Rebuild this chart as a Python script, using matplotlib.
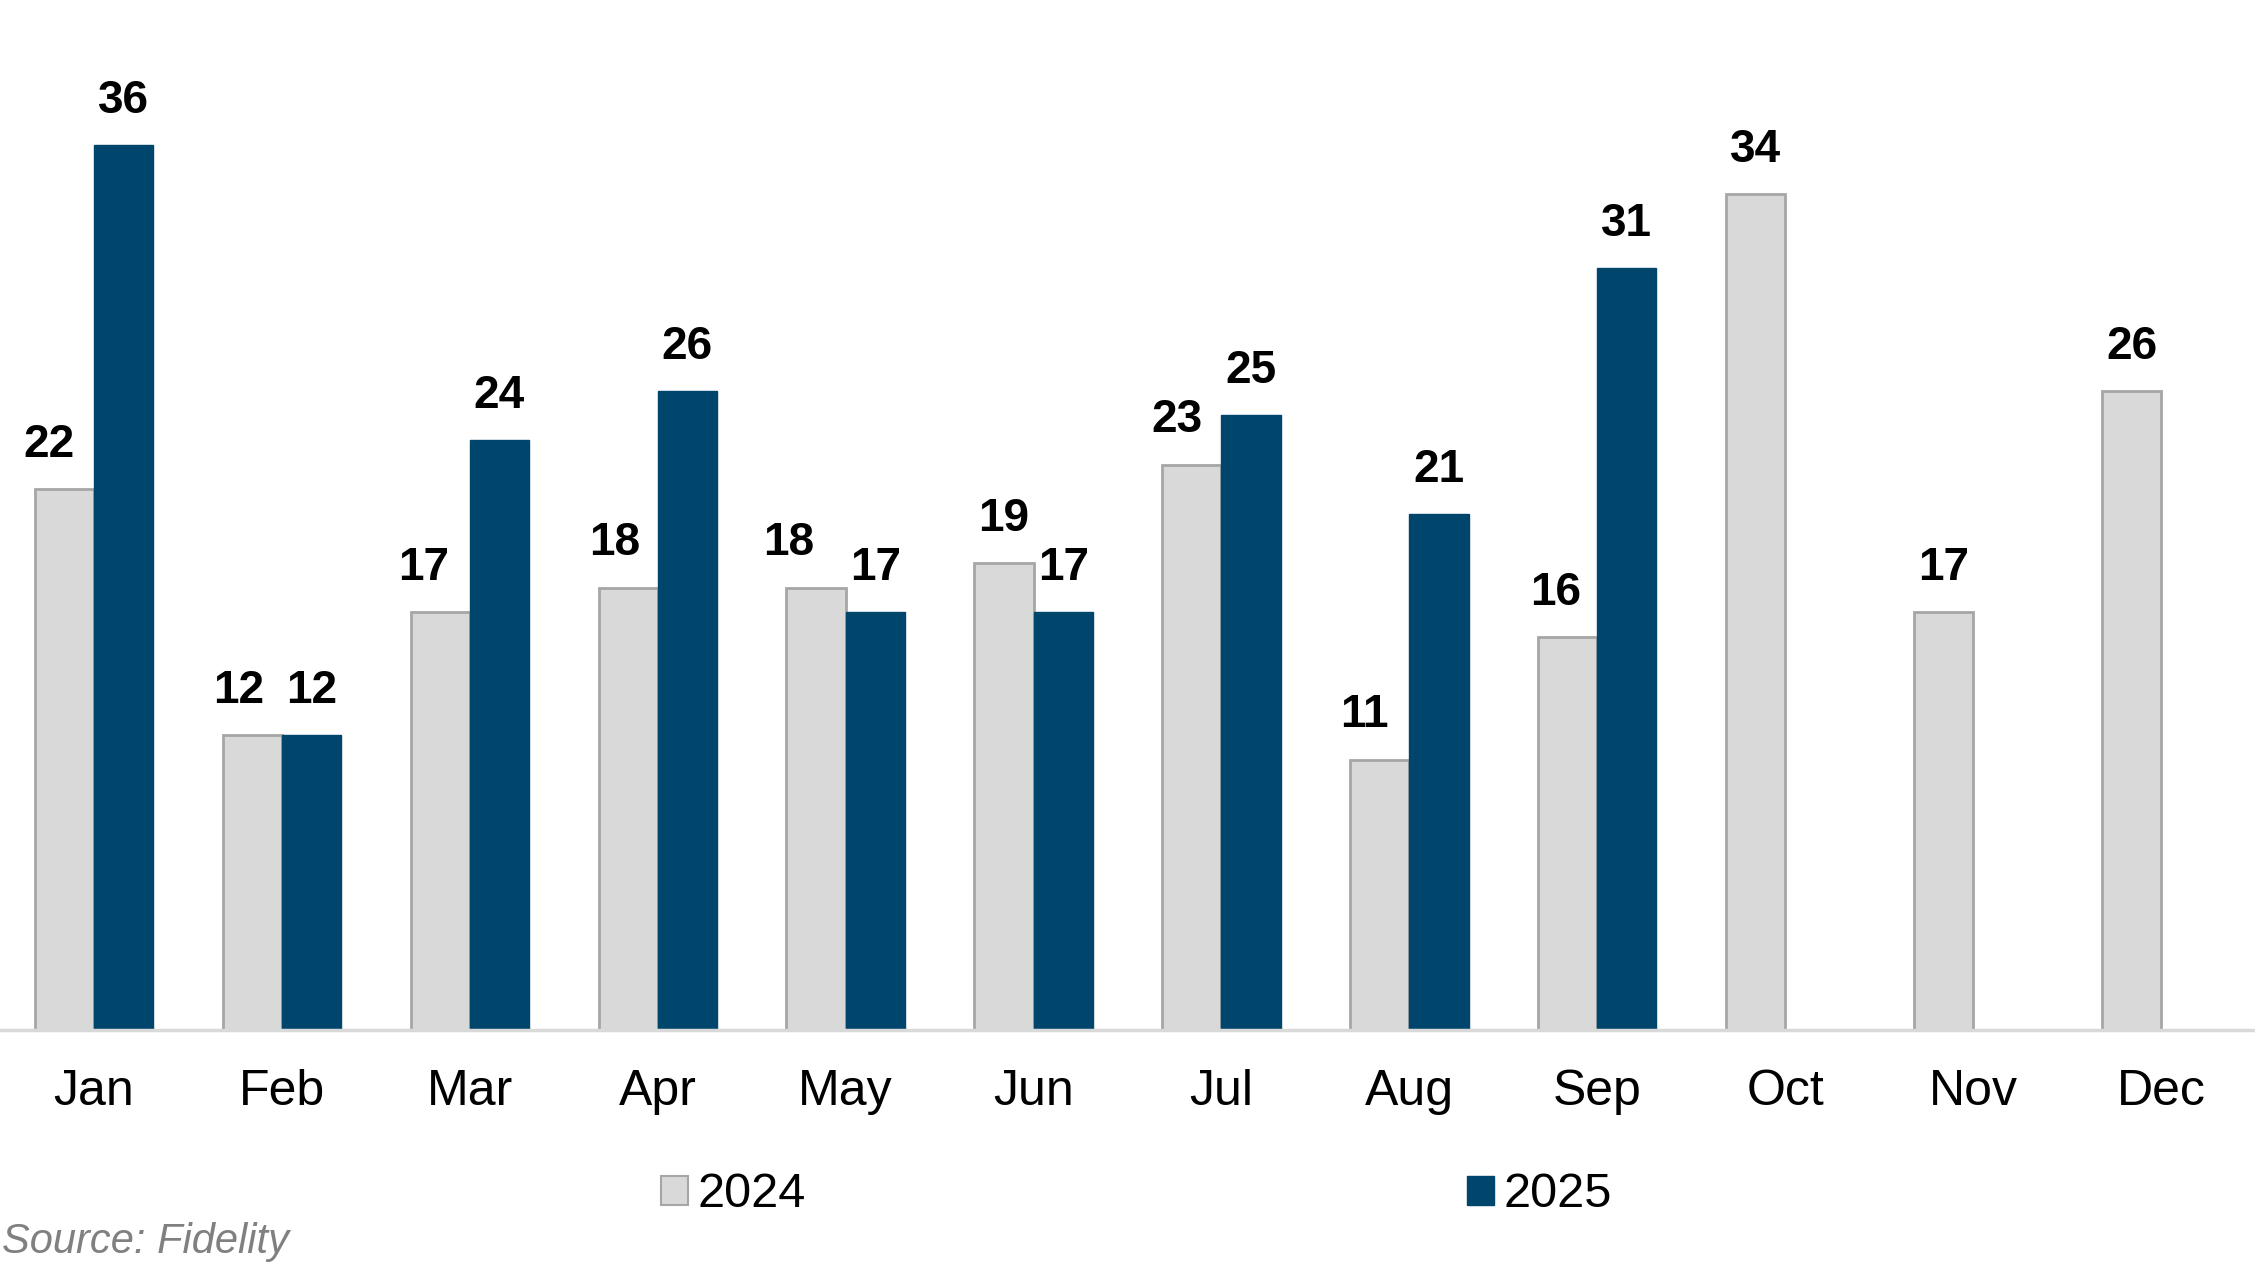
import numpy as np
import matplotlib
matplotlib.use("Agg")
import matplotlib.pyplot as plt
from matplotlib.patches import Patch

plt.rcParams["font.family"] = ["Liberation Sans", "DejaVu Sans"]

# Data
months = ["Jan", "Feb", "Mar", "Apr", "May", "Jun",
          "Jul", "Aug", "Sep", "Oct", "Nov", "Dec"]
values_2024 = [22, 12, 17, 18, 18, 19, 23, 11, 16, 34, 17, 26]
values_2025 = [36, 12, 24, 26, 17, 17, 25, 21, 31]

# Styling
color_2024 = "#D9D9D9"
edge_2024 = "#A6A6A6"
color_2025 = "#00456B"
bar_w = 0.315
# horizontal nudge (points) for 2024 labels, to clear the 2025 labels
label_dx_2024 = [-11, -10, -12, -10, -20, 0, -11, -11, -9, 0, 0, 0]

fig = plt.figure(figsize=(22.55, 12.78), dpi=100)
ax = fig.add_axes([0.0, 0.194, 1.0, 0.806])

x = np.arange(len(months))
x25 = np.arange(len(values_2025))

bars24 = ax.bar(x - bar_w / 2, values_2024, width=bar_w, color=color_2024,
                edgecolor=edge_2024, linewidth=2, zorder=2)
bars25 = ax.bar(x25 + bar_w / 2, values_2025, width=bar_w, color=color_2025,
                edgecolor=color_2025, linewidth=1, zorder=2)

for rect, v, dx in zip(bars24, values_2024, label_dx_2024):
    ax.annotate(str(v), (rect.get_x() + rect.get_width() / 2, rect.get_height()),
                xytext=(dx, 16), textcoords="offset points", ha="center", va="bottom",
                fontsize=33, fontweight="bold", color="black")
for rect, v in zip(bars25, values_2025):
    ax.annotate(str(v), (rect.get_x() + rect.get_width() / 2, rect.get_height()),
                xytext=(0, 16), textcoords="offset points", ha="center", va="bottom",
                fontsize=33, fontweight="bold", color="black")

ax.set_xlim(-0.5, len(months) - 0.5)
ax.set_ylim(0, 41.9)
ax.set_xticks(x)
ax.set_xticklabels(months, fontsize=36)
ax.tick_params(axis="x", length=0, pad=28)
ax.set_yticks([])
for side in ["top", "left", "right"]:
    ax.spines[side].set_visible(False)
ax.spines["bottom"].set_color("#D9D9D9")
ax.spines["bottom"].set_linewidth(2.5)
ax.spines["bottom"].set_zorder(3)

handles = [Patch(facecolor=color_2024, edgecolor=edge_2024, linewidth=1.5, label="2024"),
           Patch(facecolor=color_2025, edgecolor=color_2025, label="2025")]
fig.legend(handles=handles, loc="center", bbox_to_anchor=(0.504, 0.065), ncol=2,
           frameon=False, fontsize=35, handlelength=0.55, handleheight=0.55,
           handletextpad=0.2, columnspacing=13.6, borderpad=0)

fig.text(0.001, 0.028, "Source: Fidelity", fontsize=30, style="italic",
         color="#808080", ha="left", va="center")

fig.savefig("out.png", dpi=100)
